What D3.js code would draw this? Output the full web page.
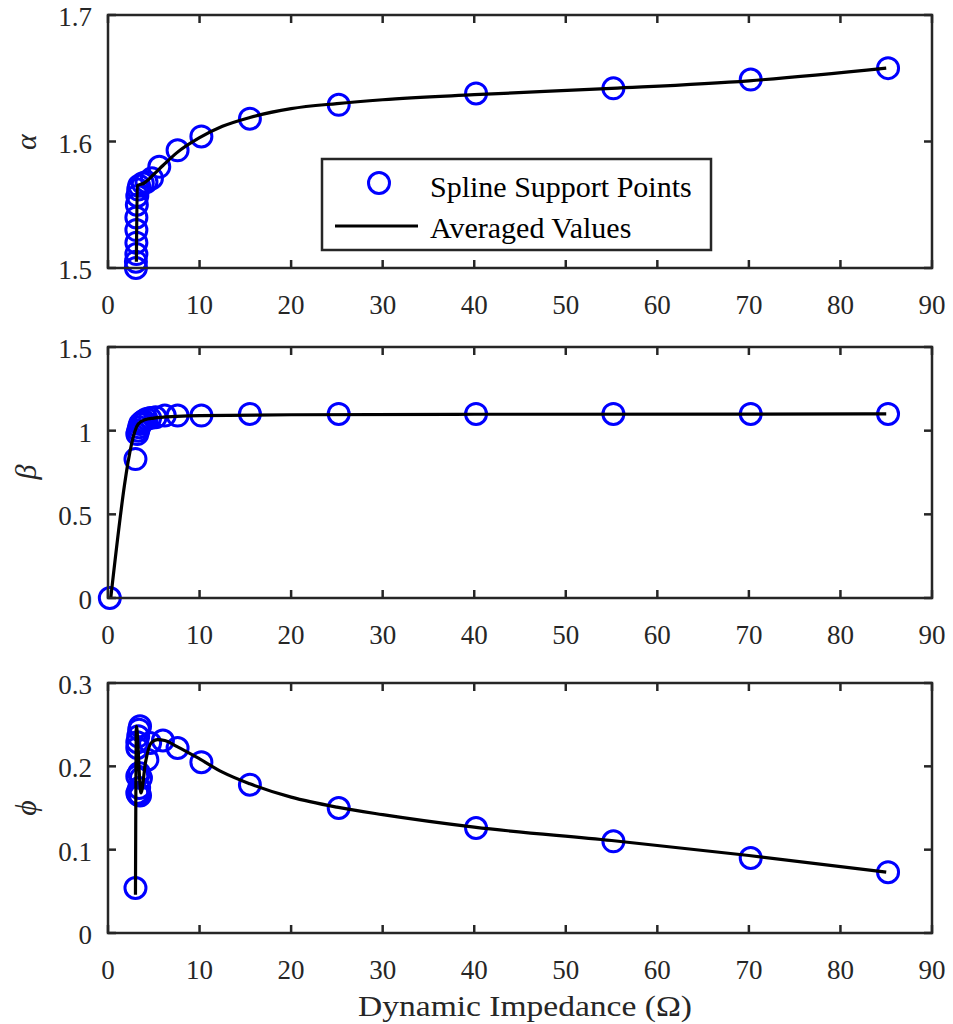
<!DOCTYPE html>
<html>
<head>
<meta charset="utf-8">
<script src="https://cdn.jsdelivr.net/npm/d3@7"></script>
<style>
  html, body { margin: 0; padding: 0; background: #fff; }
  svg { display: block; }
</style>
</head>
<body>
<script>
// spline support points [impedance, value] and averaged curves
const xTicks = [0, 10, 20, 30, 40, 50, 60, 70, 80, 90];

const alphaPoints = [
  [3.05, 1.500], [3.05, 1.505], [3.1, 1.511], [3.1, 1.520], [3.1, 1.530],
  [3.1, 1.540], [3.15, 1.550], [3.2, 1.557], [3.3, 1.562], [3.4, 1.565],
  [3.8, 1.567], [4.2, 1.568], [4.8, 1.571], [5.6, 1.580], [7.6, 1.593],
  [10.2, 1.604], [15.5, 1.618], [25.2, 1.629], [40.2, 1.638], [55.2, 1.642],
  [70.2, 1.649], [85.2, 1.658],
];
const alphaLine = [
  [3.1, 1.505], [3.2, 1.565], [3.9, 1.567], [5.0, 1.574], [6.0, 1.581],
  [7.5, 1.591], [10, 1.603], [12.5, 1.612], [15.5, 1.619], [20, 1.626],
  [25, 1.630], [30, 1.633], [40, 1.637], [55, 1.642], [70, 1.648], [85, 1.658],
];
const alphaTicks = [1.5, 1.6, 1.7];

const betaPoints = [
  [0.2, 0.0], [3.0, 0.83], [3.2, 0.98], [3.3, 1.0], [3.4, 1.02], [3.5, 1.04],
  [3.7, 1.05], [3.9, 1.06], [4.2, 1.07], [4.6, 1.075], [5.2, 1.08], [6.2, 1.09],
  [7.6, 1.09], [10.2, 1.09], [15.5, 1.1], [25.2, 1.1], [40.2, 1.1],
  [55.2, 1.1], [70.2, 1.1], [85.2, 1.1],
];
const betaLine = [
  [0.3, 0.0], [3.3, 1.04], [4.0, 1.065], [5.0, 1.075], [7.5, 1.085],
  [10, 1.09], [20, 1.095], [40, 1.098], [85, 1.1],
];
const betaTicks = [0, 0.5, 1, 1.5];

const phiPoints = [
  [3.0, 0.054], [3.2, 0.168], [3.3, 0.166], [3.4, 0.174], [3.5, 0.165],
  [3.2, 0.188], [3.4, 0.192], [3.6, 0.186], [3.2, 0.222], [3.2, 0.229],
  [3.3, 0.236], [3.4, 0.244], [3.5, 0.248], [4.3, 0.208], [4.6, 0.228],
  [6.0, 0.231], [7.6, 0.222], [10.2, 0.205], [15.5, 0.178], [25.2, 0.150],
  [40.2, 0.126], [55.2, 0.110], [70.2, 0.090], [85.2, 0.073],
];
const phiLine = [
  [3.0, 0.046], [3.1, 0.248], [3.6, 0.168], [4.1, 0.205], [4.7, 0.228],
  [5.4, 0.232], [6.2, 0.231], [7.5, 0.224], [10, 0.209], [12.5, 0.193],
  [15.5, 0.179], [20, 0.163], [25, 0.151], [30, 0.142], [40, 0.127],
  [55, 0.111], [70, 0.093], [85, 0.073],
];
const phiTicks = [0, 0.1, 0.2, 0.3];

const legendLabels = ["Spline Support Points", "Averaged Values"];

const W = 953, H = 1024;
const AX = "#262626";
const FONT = "'Liberation Serif', 'Times New Roman', serif";
const svg = d3.select("body").append("svg").attr("width", W).attr("height", H)
  .attr("font-family", FONT);

const x = d3.scaleLinear().domain([0, 90]).range([108, 932]);

const panels = [
  { label: "\u03b1", pts: alphaPoints, line: alphaLine, ticks: alphaTicks, dom: [1.5, 1.7], top: 15, bottom: 268, fmt: d3.format(".1f"), ly: 142 },
  { label: "\u03b2", pts: betaPoints, line: betaLine, ticks: betaTicks, dom: [0, 1.5], top: 347, bottom: 598, fmt: (d) => String(d), ly: 472 },
  { label: "\u03d5", pts: phiPoints, line: phiLine, ticks: phiTicks, dom: [0, 0.3], top: 683, bottom: 933, fmt: (d) => String(d), ly: 808 },
];

panels.forEach((p) => {
  const y = d3.scaleLinear().domain(p.dom).range([p.bottom, p.top]);
  const g = svg.append("g");
  const clipId = "clip" + p.top;
  svg.append("clipPath").attr("id", clipId).append("rect")
    .attr("x", x(0) - 14).attr("y", p.top - 14)
    .attr("width", x(90) - x(0) + 28).attr("height", p.bottom - p.top + 28);

  // ticks (inside, mirrored on top/right)
  const tl = 8;
  xTicks.forEach((t) => {
    g.append("line").attr("x1", x(t)).attr("x2", x(t)).attr("y1", p.bottom).attr("y2", p.bottom - tl)
      .attr("stroke", AX).attr("stroke-width", 2.5);
    g.append("line").attr("x1", x(t)).attr("x2", x(t)).attr("y1", p.top).attr("y2", p.top + tl)
      .attr("stroke", AX).attr("stroke-width", 2.5);
    g.append("text").attr("font-family", FONT).attr("font-size", 27).attr("fill", AX)
      .attr("x", x(t)).attr("y", p.bottom + 46)
      .attr("text-anchor", "middle").text(t);
  });
  p.ticks.forEach((t) => {
    g.append("line").attr("x1", x(0)).attr("x2", x(0) + tl).attr("y1", y(t)).attr("y2", y(t))
      .attr("stroke", AX).attr("stroke-width", 2.5);
    g.append("line").attr("x1", x(90)).attr("x2", x(90) - tl).attr("y1", y(t)).attr("y2", y(t))
      .attr("stroke", AX).attr("stroke-width", 2.5);
    g.append("text").attr("font-family", FONT).attr("font-size", 27).attr("fill", AX)
      .attr("x", 92).attr("y", y(t) + 11)
      .attr("text-anchor", "end").text(p.fmt(t));
  });

  // data
  const data = g.append("g").attr("clip-path", `url(#${clipId})`);
  data.selectAll("circle").data(p.pts).enter().append("circle")
    .attr("cx", (d) => x(d[0])).attr("cy", (d) => y(d[1])).attr("r", 10.5)
    .attr("fill", "none").attr("stroke", "#0000ff").attr("stroke-width", 3);
  data.append("path").datum(p.line)
    .attr("d", d3.line().x((d) => x(d[0])).y((d) => y(d[1])).curve(d3.curveMonotoneX))
    .attr("fill", "none").attr("stroke", "#000").attr("stroke-width", 3.2);

  // box
  g.append("rect").attr("x", x(0)).attr("y", p.top).attr("width", x(90) - x(0)).attr("height", p.bottom - p.top)
    .attr("fill", "none").attr("stroke", AX).attr("stroke-width", 2.5);

  g.append("text").attr("font-family", FONT).attr("font-size", 30).attr("font-style", "italic").attr("fill", AX)
    .attr("transform", `translate(36,${p.ly}) rotate(-90)`)
    .attr("text-anchor", "middle").text(p.label);
});

// legend
const leg = svg.append("g");
leg.append("rect").attr("x", 322).attr("y", 159).attr("width", 389).attr("height", 91)
  .attr("fill", "#fff").attr("stroke", AX).attr("stroke-width", 2.5);
leg.append("circle").attr("cx", 379).attr("cy", 183).attr("r", 10.5)
  .attr("fill", "none").attr("stroke", "#0000ff").attr("stroke-width", 3);
leg.append("line").attr("x1", 335).attr("x2", 418).attr("y1", 226).attr("y2", 226)
  .attr("stroke", "#000").attr("stroke-width", 3.2);
legendLabels.forEach((t, i) => {
  leg.append("text").attr("font-family", FONT).attr("font-size", 30).attr("fill", "#000")
    .attr("x", 430).attr("y", 197 + i * 41).text(t);
});

svg.append("text").attr("font-family", FONT).attr("font-size", 30).attr("fill", AX)
  .attr("x", 525).attr("y", 1016)
  .attr("text-anchor", "middle").attr("textLength", 334).attr("lengthAdjust", "spacingAndGlyphs")
  .text("Dynamic Impedance (\u03a9)");
</script>
</body>
</html>
